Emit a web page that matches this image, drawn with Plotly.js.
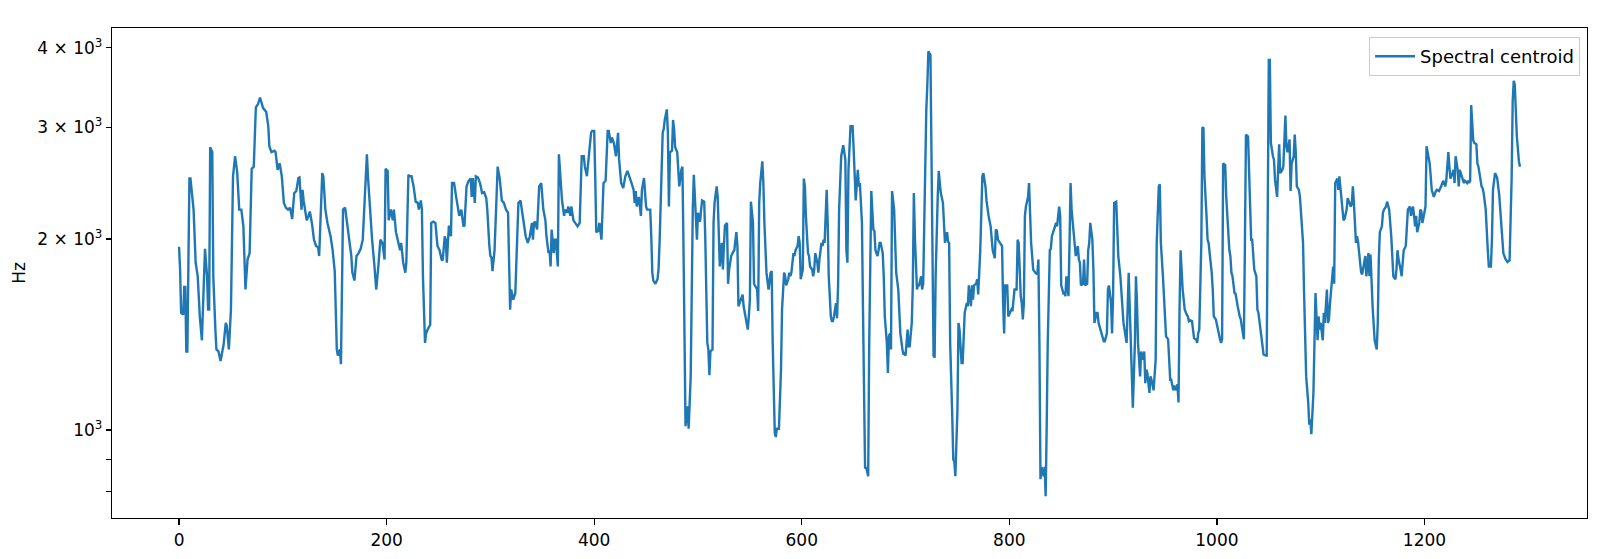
<!DOCTYPE html>
<html>
<head>
<meta charset="utf-8">
<script src="https://cdn.plot.ly/plotly-3.0.1.min.js"></script>
<style>html,body{margin:0;padding:0;background:#fff;}#chart{width:1600px;height:559px;}</style>
</head>
<body>
<div id="chart"></div>
<script>
// Frame indices (x) and spectral centroid values in Hz (y)
const frames = [
0,1,2,4,5,6,7,8,10,11,14,16,18,20,22,25,27,28,29,30,32,33,35,36,38,40,43,45,46,48,50,52,54,56,58,60,62,64,66,68,70,72,74,76,78,81,84,86,87,89,92,93,95,97,99,101,103,105,
107,109,111,113,115,116,118,119,120,122,123,125,126,128,130,132,134,135,138,139,141,143,145,146,148,150,151,152,153,155,156,158,160,162,164,166,167,169,171,173,175,177,179,181,182,184,186,188,190,192,194,196,198,199,201,202,204,206,207,209,211,213,214,216,218,219,221,
222,224,226,228,230,231,233,234,235,237,238,240,242,243,245,247,249,251,253,254,256,257,258,260,262,263,265,267,269,270,272,274,275,277,279,281,282,283,285,286,288,290,292,294,296,297,299,300,301,302,304,306,307,309,311,313,315,317,318,319,320,322,324,326,327,329,331,333,334,336,
337,338,340,341,342,343,345,346,347,349,350,351,353,354,356,357,358,359,361,362,363,365,366,368,369,371,372,374,375,377,378,380,382,384,386,388,390,391,393,395,397,398,400,401,402,404,405,407,408,409,411,413,414,416,417,419,421,423,424,426,428,430,432,434,436,438,439,440,441,443,445,446,448,450,451,
452,454,455,456,457,459,461,462,463,464,466,467,468,470,471,472,473,475,476,477,478,480,481,482,484,485,486,487,488,490,491,493,494,495,496,497,499,500,502,503,504,506,507,509,510,511,512,514,515,516,518,519,520,521,523,524,525,526,528,529,530,532,534,535,537,538,539,541,542,543,544,546,548,549,550,551,553,554,555,557,558,559,560,562,563,564,566,567,
568,570,571,572,574,575,576,578,579,580,581,583,584,585,587,588,589,590,592,593,594,596,597,598,599,601,602,603,604,606,607,608,610,611,612,613,615,616,617,619,620,621,622,624,625,626,628,629,630,631,633,634,635,636,638,639,640,642,643,644,645,647,649,650,651,652,654,655,656,658,659,660,661,662,664,665,666,667,669,670,671,673,674,675,676,678,679,680,682,683,
684,685,686,687,689,690,691,693,694,695,697,698,699,700,702,703,704,706,707,708,709,711,712,713,715,716,717,718,720,721,722,724,725,726,727,728,729,731,732,733,734,736,737,738,740,741,742,743,745,746,747,748,750,751,752,754,755,756,757,759,760,761,763,764,765,766,768,769,770,772,773,774,775,777,778,779,780,782,783,784,786,787,788,789,791,793,794,795,796,798,
799,800,802,803,804,805,807,808,809,811,812,813,814,815,816,818,819,820,821,823,824,825,827,828,829,830,831,833,834,835,836,837,839,840,841,843,844,845,846,848,849,850,852,853,854,855,857,858,859,860,862,863,864,866,867,868,869,871,872,873,875,876,877,878,880,881,882,884,885,886,887,889,890,891,892,894,895,896,898,899,900,901,903,904,905,907,908,909,910,912,913,
915,917,918,919,921,922,923,924,926,927,928,930,931,932,933,935,936,937,939,940,941,942,944,945,946,948,949,950,951,953,954,955,956,958,959,960,962,963,964,965,967,968,969,971,972,973,974,976,977,978,980,981,982,983,985,986,987,988,990,991,992,994,995,996,997,999,1000,1001,1003,1004,1005,1006,1008,1009,1010,1012,1013,1014,1015,1017,1018,1019,1020,1022,1023,1024,1026,1027,1028,
1030,1033,1034,1035,1036,1038,1039,1040,1042,1043,1044,1045,1047,1048,1049,1050,1051,1052,1054,1055,1056,1058,1059,1060,1061,1063,1064,1065,1066,1067,1068,1070,1071,1072,1074,1075,1076,1077,1079,1080,1081,1083,1084,1085,1086,1088,1089,1090,1091,1093,1094,1095,1097,1098,1099,1100,1102,1103,1104,1106,1107,1108,1109,1111,1112,1113,1114,1116,1117,1118,1120,1121,1122,1123,1125,1126,1127,1129,1130,1131,1132,1134,1135,1136,1138,1139,1140,1141,1143,
1144,1146,1147,1148,1150,1152,1154,1155,1156,1157,1159,1160,1161,1163,1164,1166,1168,1169,1170,1172,1173,1174,1175,1177,1178,1179,1180,1182,1183,1184,1186,1187,1188,1189,1191,1192,1193,1195,1196,1197,1198,1200,1201,1202,1204,1205,1206,1207,1209,1210,1211,1212,1214,1216,1218,1219,1220,1221,1223,1224,1225,1227,1228,1229,1230,1232,1233,1234,1236,1237,1238,1239,1241,1242,1243,1244,1245,1247,1248,1250,1251,1252,1253,1255,1256,1257,1259,1260,1261,1262,1264,1265,1266,1268,
1270,1272,1274,1276,1278,1280,1282,1284,1285,1286,1287,1289,1291,1292
];
const centroidHz = [
1945,1790,1530,1520,1680,1680,1330,1330,2490,2490,2225,1835,1747,1510,1385,1930,1747,1548,1548,2790,2740,1747,1440,1340,1330,1285,1365,1475,1460,1340,1548,2511,2700,2550,2225,2225,2094,1665,1856,1900,2580,2600,3225,3260,3340,3215,3170,3010,2800,2740,2755,2740,2570,2630,2511,2280,2240,2225,
2240,2150,2363,2380,2495,2500,2225,2390,2300,2200,2140,2180,2210,2120,1995,1950,1940,1880,2540,2511,2225,2120,2050,2020,1920,1780,1548,1340,1310,1340,1270,2225,2240,2120,1995,1880,1770,1720,1880,1900,1930,1995,2330,2720,2511,2225,1995,1835,1665,1810,1995,1972,1856,2580,2560,2140,2225,2140,2225,2050,1972,1920,1972,1835,1770,1835,2525,
2511,2511,2420,2290,2280,2225,2300,2225,1747,1372,1420,1445,1465,2120,2130,2120,1950,1920,1856,1850,2020,1995,1835,2100,2020,2450,2450,2330,2200,2175,2225,2094,2100,2420,2470,2490,2330,2495,2280,2511,2500,2450,2363,2370,2320,2225,1950,1880,1870,1780,1920,2280,2600,2490,2300,2280,2225,2200,1700,1548,1665,1605,1644,2175,2280,2300,2175,2050,2020,1972,
1995,2020,2120,1995,2120,2130,2070,2250,2420,2450,2330,2225,2140,2020,1900,1920,1810,2070,1900,1995,1995,1810,2720,2450,2300,2175,2225,2200,2250,2175,2250,2140,2120,2094,2120,2700,2700,2600,2511,2700,2940,2960,2960,2511,2050,2060,2120,1995,2225,2450,2470,2960,2960,2833,2890,2833,2700,2940,2667,2450,2405,2511,2560,2511,2450,2390,2280,2380,2250,2330,2175,2390,2495,2250,2225,
2225,2225,2020,1770,1720,1700,1728,1790,1972,2330,2940,2980,3080,3200,2940,2250,2740,2755,3080,2980,2790,2740,2600,2420,2570,2600,1972,1372,1014,1090,1005,1215,1747,2225,2525,2330,1995,2200,2130,2225,2300,2290,2020,1372,1340,1220,1330,1340,2120,2280,2420,2330,2094,1810,1972,1790,1950,2100,2120,1700,1790,1880,1910,1920,2050,1950,1567,1605,1625,1635,1567,1510,1440,1510,1605,2290,2120,1700,1690,1665,1540,2280,2450,2650,2450,2120,1770,1700,
1665,1770,1780,1372,990,975,1005,1005,1105,1245,1548,1770,1747,1690,1728,1770,1747,1770,1900,1880,1920,1950,2020,1972,1728,1790,2490,2420,2175,1900,1880,1810,1790,1747,1790,1900,1835,1770,1856,1972,1950,1995,1972,2390,2120,1747,1510,1485,1485,1510,1585,1500,1690,2225,2700,2770,2810,2667,1920,1835,2570,3010,3010,2770,2511,2300,2570,2420,2450,2120,1548,1005,870,875,846,1372,2094,2380,2070,2060,1920,1880,1920,1972,1972,1900,1747,1510,1372,1230,
1405,1420,1340,2380,2225,1920,1770,1665,1548,1420,1340,1315,1320,1310,1440,1355,1355,1475,1690,2363,2020,1665,1690,1690,1747,1665,1700,2225,3197,3500,3950,3900,2511,1548,1310,1300,1747,2330,2560,2450,2363,2280,2120,1972,2050,1980,1972,1372,1052,898,893,846,1077,1475,1440,1275,1275,1440,1530,1585,1567,1690,1567,1690,1605,1690,1700,1728,1635,1920,2330,2511,2540,2420,2300,2225,2175,2094,2020,1920,1866,2070,2060,1995,1972,1950,1585,1420,1690,1690,
1510,1520,1548,1540,1585,1665,1665,1995,1972,1625,1585,1494,1585,2175,2250,2330,2450,2225,1972,1790,1780,1770,1760,1856,1372,837,875,846,875,787,1014,1372,1920,1930,2020,2085,2094,2120,2094,2250,2175,1690,1644,1650,1625,1747,1625,1972,2450,2225,2020,1950,1880,1950,1856,1835,1690,1700,1856,1690,1700,1920,1972,2120,1995,1790,1475,1530,1530,1475,1457,1412,1395,1380,1380,1420,1665,1690,1585,1420,1644,2280,2290,2120,1880,1747,1625,1548,1475,1405,1372,
1770,1355,1215,1085,1372,1747,1585,1372,1215,1330,1291,1330,1185,1245,1230,1144,1215,1200,1155,1215,1291,1972,2420,2440,1972,1747,1625,1548,1405,1390,1291,1200,1200,1155,1175,1155,1180,1105,1548,1920,1665,1605,1548,1520,1510,1485,1490,1485,1440,1395,1390,1372,1420,1440,1972,2990,3000,2511,2175,1995,1972,1856,1770,1665,1510,1494,1465,1430,1390,1372,1390,2630,2615,2330,2175,1920,1880,1770,1747,1644,1640,1585,1567,1510,1494,1457,1390,1972,2920,
2900,1995,1995,1856,1790,1747,1548,1530,1440,1405,1355,1315,1310,1310,2225,3830,3830,2833,2700,2667,2480,2330,2570,2820,2540,2570,2600,2833,3130,2800,2740,2870,2380,2630,2700,2920,2740,2420,2390,2330,2225,1972,1644,1372,1215,1105,1020,1040,985,1144,1372,1644,1385,1510,1440,1475,1385,1530,1475,1665,1475,1494,1585,1770,1810,1700,2450,2490,2390,2511,2330,2200,2140,2150,2225,2320,2300,2250,2270,2420,2280,1972,2020,1980,1835,1770,1760,1810,1880,
1747,1900,1747,1890,1567,1385,1340,1475,1856,2050,2094,2200,2225,2250,2290,2225,2020,1856,1747,1728,1790,1920,1856,1790,1747,1835,1920,1950,2050,2225,2250,2175,2225,2250,2094,2175,2050,2120,2225,2210,2120,2200,2250,2800,2667,2630,2511,2390,2330,2363,2380,2390,2380,2420,2470,2450,2420,2470,2740,2600,2490,2540,2570,2450,2700,2570,2420,2570,2511,2490,2450,2470,2450,2470,2450,2470,3250,2860,2833,2820,2630,2600,2540,2420,2405,2363,2225,2020,1920,1810,1810,1995,2390,2540,
2500,2350,2100,1900,1860,1840,1850,2500,3300,3550,3500,2900,2650,2600
];
const seriesName = 'Spectral centroid';
const xTickVals = [0, 200, 400, 600, 800, 1000, 1200];
const yTickVals = [1000, 2000, 3000, 4000];
const yTickText = ['10<sup>3</sup>', '2 × 10<sup>3</sup>', '3 × 10<sup>3</sup>', '4 × 10<sup>3</sup>'];
const yMinorTickVals = [800, 900];

const trace = {
  x: frames,
  y: centroidHz,
  type: 'scatter',
  mode: 'lines',
  name: seriesName,
  line: {color: '#1f77b4', width: 2.4},
  showlegend: true
};

const font = {family: 'DejaVu Sans, sans-serif', size: 17, color: '#000'};
const legendFont = {family: 'DejaVu Sans, sans-serif', size: 18, color: '#000'};

const layout = {
  width: 1600,
  height: 559,
  margin: {l: 112, r: 13, t: 28, b: 41, pad: 0},
  paper_bgcolor: '#fff',
  plot_bgcolor: '#fff',
  font: font,
  showlegend: true,
  xaxis: {
    range: [-64.6, 1356.6],
    tickmode: 'array',
    tickvals: xTickVals,
    ticktext: xTickVals.map(String),
    ticks: 'outside',
    ticklen: 6,
    tickwidth: 1.2,
    tickcolor: '#000',
    showgrid: false,
    zeroline: false,
    showline: true,
    mirror: true,
    linecolor: '#000',
    linewidth: 1.2,
    tickfont: font
  },
  yaxis: {
    type: 'log',
    range: [2.8615, 3.6334],
    tickmode: 'array',
    tickvals: yTickVals,
    ticktext: yTickText,
    ticks: 'outside',
    ticklen: 5,
    tickwidth: 1.2,
    tickcolor: '#000',
    minor: {tickmode: 'array', tickvals: yMinorTickVals, ticks: 'outside', ticklen: 5, tickwidth: 1.2, tickcolor: '#000', showgrid: false},
    showgrid: false,
    zeroline: false,
    showline: true,
    mirror: true,
    linecolor: '#000',
    linewidth: 1.2,
    tickfont: font,
    title: {text: 'Hz', font: font, standoff: 7}
  },
  legend: {
    x: 0.9953,
    y: 0.9816,
    xanchor: 'right',
    yanchor: 'top',
    bgcolor: 'rgba(255,255,255,0.8)',
    bordercolor: '#cccccc',
    borderwidth: 1,
    itemwidth: 40,
    font: legendFont
  }
};

Plotly.newPlot('chart', [trace], layout, {staticPlot: true, displayModeBar: false});
</script>
</body>
</html>
